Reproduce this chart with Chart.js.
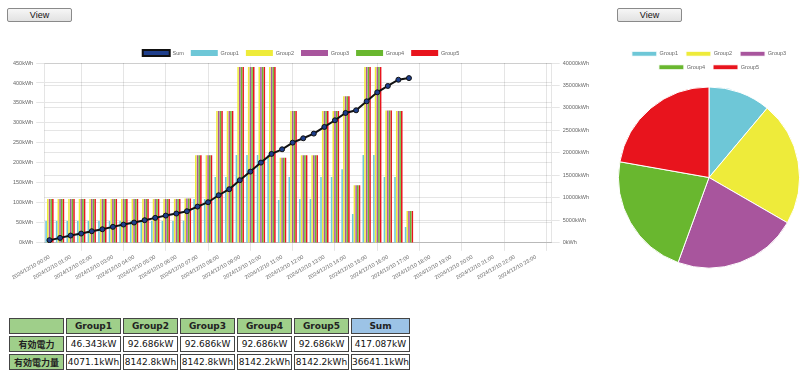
<!DOCTYPE html>
<html>
<head>
<meta charset="utf-8">
<script src="https://cdn.jsdelivr.net/npm/chart.js@4.4.1/dist/chart.umd.min.js"></script>
<style>
    body { margin: 0; background: #fff; font-family: "Liberation Sans", Arial, sans-serif; }
    .btn {
        position: absolute; width: 65px; height: 14px; box-sizing: border-box;
        border: 1px solid #8a8a8a; border-radius: 2px;
        background: linear-gradient(#f6f6f6, #e2e2e2);
        font-size: 9px; line-height: 12px; text-align: center; color: #111;
    }
    #lineBox { position: absolute; left: 0; top: 43px; width: 600px; height: 241px; }
    #pieBox { position: absolute; left: 618px; top: 40px; width: 182px; height: 235px; }
    table.summary {
        position: absolute; left: 7px; top: 316px;
        border-collapse: separate; border-spacing: 2px;
        font-family: "DejaVu Sans", Verdana, sans-serif; font-size: 9px;
    }
    table.summary td, table.summary th {
        border: 1px solid #444; width: 53px; height: 14px; padding: 0;
        text-align: center; white-space: nowrap;
    }
    table.summary th { background: #9fcf8a; color: #222; font-weight: bold; }
    table.summary th.sum { background: #9cc3e6; }
    table.summary th.row { font-family: "Noto Sans CJK JP", sans-serif; font-size: 9px; }
    table.summary td { background: #fff; color: #111; }
</style>
</head>
<body>

<div class="btn" style="left:7px; top:8px;">View</div>
<div class="btn" style="left:617px; top:8px;">View</div>

<div id="lineBox"><canvas id="chart-line"></canvas></div>
<div id="pieBox"><canvas id="chart-pie"></canvas></div>

<table class="summary">
    <tr><th></th><th>Group1</th><th>Group2</th><th>Group3</th><th>Group4</th><th>Group5</th><th class="sum">Sum</th></tr>
    <tr><th class="row">有効電力</th><td>46.343kW</td><td>92.686kW</td><td>92.686kW</td><td>92.686kW</td><td>92.686kW</td><td>417.087kW</td></tr>
    <tr><th class="row">有効電力量</th><td>4071.1kWh</td><td>8142.8kWh</td><td>8142.8kWh</td><td>8142.2kWh</td><td>8142.2kWh</td><td>36641.1kWh</td></tr>
</table>

<script>
/* ------------------------------- Data -------------------------------*/

const DAY = "2024/12/10 ";
const TIMES = ["00:00", "00:30", "01:00", "01:30", "02:00", "02:30", "03:00", "03:30",
    "04:00", "04:30", "05:00", "05:30", "06:00", "06:30", "07:00", "07:30",
    "08:00", "08:30", "09:00", "09:30", "10:00", "10:30", "11:00", "11:30",
    "12:00", "12:30", "13:00", "13:30", "14:00", "14:30", "15:00", "15:30",
    "16:00", "16:30", "17:00", "17:30", "18:00", "18:30", "19:00", "19:30",
    "20:00", "20:30", "21:00", "21:30", "22:00", "22:30", "23:00", "23:30"];

const GROUP_NAMES = ["Group1", "Group2", "Group3", "Group4", "Group5"];
const GROUP_COLORS = ["#6ec7d7", "#eeeb3a", "#a8559d", "#69b72f", "#e8141d"];

// kWh per half hour (left axis)
const group1 = [55, 55, 55, 55, 55, 55, 55, 55, 55, 55, 55, 55, 55, 55.5, 110, 110, 165, 165,
    220, 220, 220, 220, 107, 165, 110, 110, 165, 165, 184, 72, 220, 220, 165, 165, 40];
const group2 = [110, 110, 110, 110, 110, 110, 110, 110, 110, 110, 110, 110, 110, 111, 219, 219, 330, 330,
    440, 440, 440, 440, 213, 330, 219, 219, 330, 330, 367, 144, 440, 440, 331, 330, 80];
const group3 = [110, 110, 110, 110, 110, 110, 110, 110, 110, 110, 110, 110, 110, 111, 219, 219, 330, 330,
    440, 440, 440, 440, 213, 330, 219, 219, 330, 330, 367, 144, 440, 440, 331, 330, 80];
const group4 = [110, 110, 110, 110, 110, 110, 110, 110, 110, 110, 110, 110, 110, 111, 219, 219, 330, 330,
    440, 440, 440, 440, 213, 330, 219, 219, 330, 330, 367, 144, 440, 440, 331, 330, 80];
const group5 = [110, 110, 110, 110, 110, 110, 110, 110, 110, 110, 110, 110, 110, 111, 219, 219, 330, 330,
    440, 440, 440, 440, 213, 330, 219, 219, 330, 330, 367, 144, 440, 440, 331, 330, 80];

// cumulative kWh (right axis)
const sumTotal = [600, 1110, 1630, 2070, 2590, 3030, 3560, 4070, 4520, 5040, 5560, 6070, 6520, 7040,
    8070, 9040, 10590, 11930, 13930, 15850, 17850, 19780, 20810, 22290, 23260, 24300, 25780, 27260,
    28890, 29480, 31480, 33480, 34890, 36280, 36641];

// energy per group for the pie
const groupEnergy = [4071.1, 8142.8, 8142.8, 8142.2, 8142.2];

/* ------------------------------- Charts -------------------------------*/

Chart.defaults.font.family = "'Liberation Sans', Arial, sans-serif";
Chart.defaults.font.size = 5.5;
Chart.defaults.color = "#666";
Chart.defaults.animation = false;

var GRID = "rgba(0,0,0,0.1)";

var shrinkLegend = {                            // легенда ближче до графіка
    id: "shrinkLegend",
    beforeInit: function (chart) {
        var fit = chart.legend.fit;
        chart.legend.fit = function () {
            fit.bind(chart.legend)();
            this.height -= 3;
        };
    }
};

function drawLineChart() {
    var labels = TIMES.map(t => DAY + t);
    var groups = [group1, group2, group3, group4, group5];

    var datasets = [{
        type: "line",
        label: "Sum",
        data: sumTotal,
        yAxisID: "y1",
        borderColor: "#111",
        backgroundColor: "#1f3f8c",
        borderWidth: 2,
        pointRadius: 2.5,
        pointBackgroundColor: "#1f3f8c",
        pointBorderColor: "#111",
        pointBorderWidth: 1,
        tension: 0
    }];

    groups.forEach(function (data, i) {
        datasets.push({
            type: "bar",
            label: GROUP_NAMES[i],
            data: data,
            yAxisID: "y",
            backgroundColor: GROUP_COLORS[i]
        });
    });

    new Chart(document.getElementById("chart-line"), {
        data: { labels: labels, datasets: datasets },
        plugins: [shrinkLegend],
        options: {
            responsive: true,
            maintainAspectRatio: false,
            layout: { padding: { left: 10, right: 8, top: 0, bottom: 0 } },
            plugins: {
                legend: {
                    labels: { boxWidth: 27, boxHeight: 6, padding: 7 }
                },
                tooltip: { enabled: false }
            },
            scales: {
                x: {
                    offset: true,
                    grid: {
                        offset: false,
                        color: ctx => (ctx.index % 4 == 3 ? GRID : "transparent")
                    },
                    ticks: {
                        autoSkip: false,
                        minRotation: 30,
                        maxRotation: 30,
                        callback: function (val, idx) {
                            return idx % 2 == 0 ? this.getLabelForValue(val) : "";
                        }
                    }
                },
                y: {
                    position: "left",
                    min: 0,
                    max: 450,
                    ticks: { stepSize: 50, callback: v => v + "kWh" },
                    grid: { color: GRID }
                },
                y1: {
                    position: "right",
                    min: 0,
                    max: 40000,
                    ticks: { stepSize: 5000, callback: v => v + "kWh" },
                    grid: { color: GRID }
                }
            }
        }
    });
}

function drawPieChart() {
    new Chart(document.getElementById("chart-pie"), {
        type: "pie",
        data: {
            labels: GROUP_NAMES,
            datasets: [{
                data: groupEnergy,
                backgroundColor: GROUP_COLORS,
                borderColor: "#fff",
                borderWidth: 1
            }]
        },
        options: {
            responsive: true,
            maintainAspectRatio: false,
            layout: { padding: { top: 3, bottom: 0 } },
            plugins: {
                legend: {
                    labels: { boxWidth: 25, boxHeight: 5, padding: 8 }
                },
                tooltip: { enabled: false }
            }
        }
    });
}

drawLineChart();
drawPieChart();
</script>
</body>
</html>
